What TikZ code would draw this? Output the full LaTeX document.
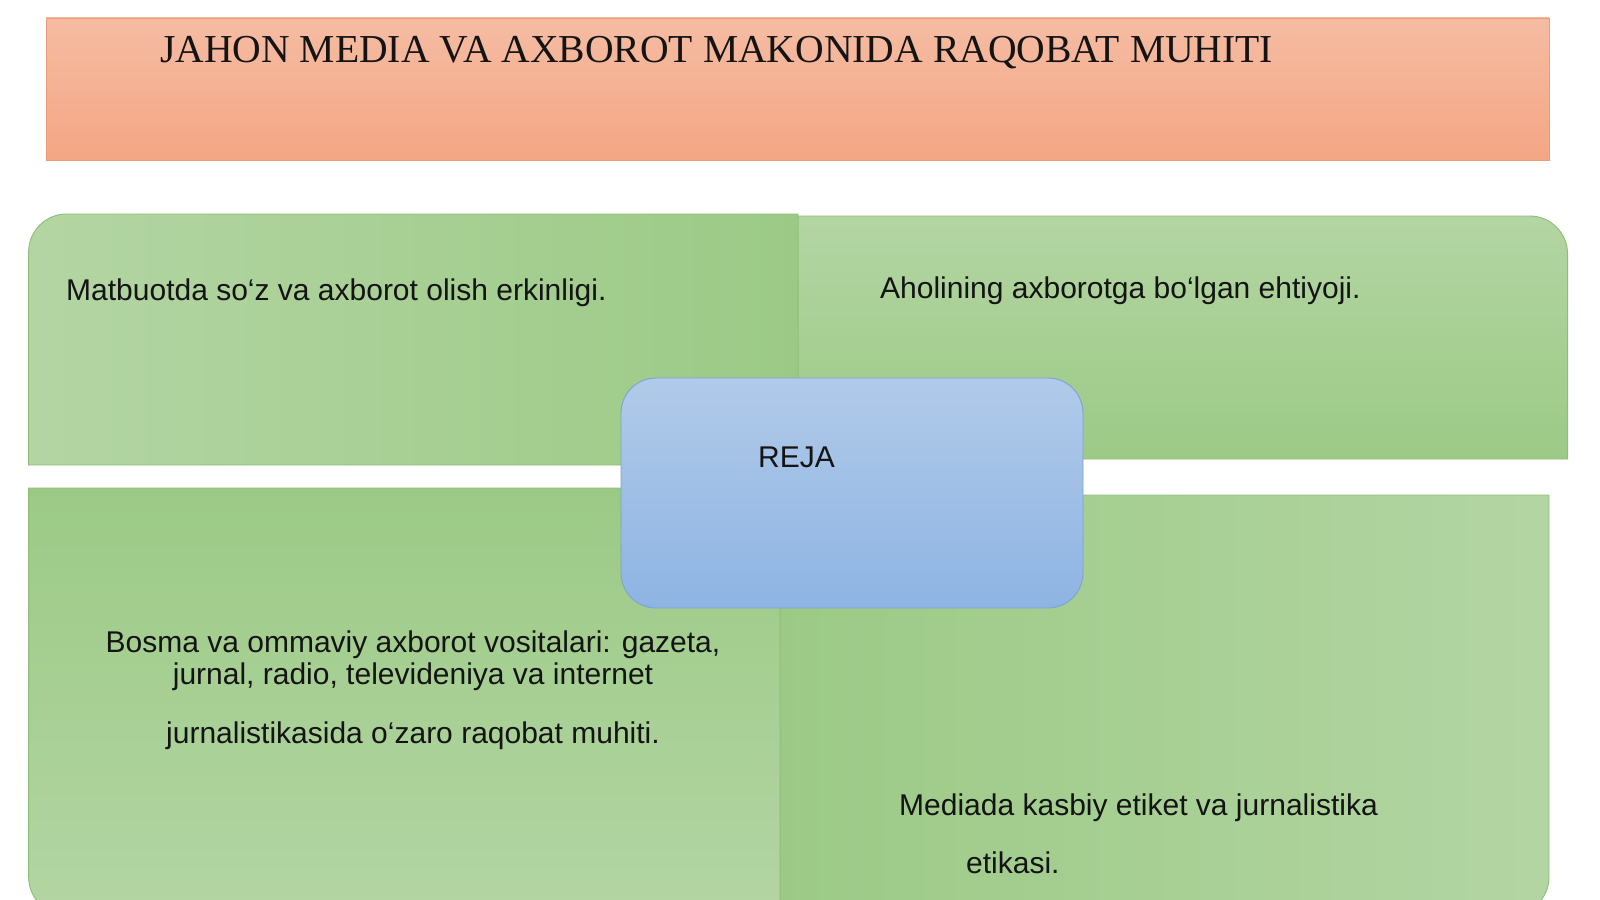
\documentclass[tikz,border=0pt]{standalone}
\usepackage{fontspec}
\usepackage{graphicx}
\setmainfont{Liberation Sans}
\newfontfamily\titlefont{Liberation Serif}
\definecolor{glight}{RGB}{179,213,163}
\definecolor{gdark}{RGB}{156,202,134}
\definecolor{gborder}{RGB}{140,190,118}
\definecolor{otop}{RGB}{245,188,163}
\definecolor{obottom}{RGB}{244,166,132}
\definecolor{oborder}{RGB}{236,156,120}
\definecolor{btop}{RGB}{177,202,233}
\definecolor{bbottom}{RGB}{142,180,227}
\definecolor{bborder}{RGB}{125,162,212}
\definecolor{ink}{RGB}{20,20,20}
\begin{document}
\begin{tikzpicture}[x=1pt,y=-1pt,
  gbox/.style={draw=gborder,line width=0.9pt},
  txt/.style={inner sep=0pt,anchor=base west,text=ink,font=\fontsize{30}{36}\selectfont},
  ctxt/.style={inner sep=0pt,anchor=base,text=ink,font=\fontsize{30}{36}\selectfont}]
\useasboundingbox (0,0) rectangle (1600,899);
\clip (0,0) rectangle (1600,899);
\fill[white] (0,0) rectangle (1600,899);
% title
\node[rectangle,draw=oborder,line width=0.9pt,top color=otop,bottom color=obottom,
  minimum width=1503pt,minimum height=142pt,inner sep=0pt] (titlebox) at (797.5,89) {};
\node[inner sep=0pt,anchor=base west,text=ink] (title) at (160,63)
  {\resizebox{1113pt}{!}{\titlefont\fontsize{40}{44}\selectfont JAHON MEDIA VA AXBOROT MAKONIDA RAQOBAT MUHITI}};
% top-right
\path[gbox,top color=glight,bottom color=gdark]
  (798,459) -- (798,216) -- (1529.6,216) .. controls (1550.6,216) and (1567.6,233) .. (1567.6,254) -- (1567.6,459) -- cycle;
% top-left
\path[gbox,left color=glight,right color=gdark]
  (28.6,465) -- (28.6,252) .. controls (28.6,231) and (45.6,214) .. (66.6,214) -- (798,214) -- (798,465) -- cycle;
% bottom-right
\path[gbox,left color=gdark,right color=glight]
  (780,495) -- (1549,495) -- (1549,877) .. controls (1549,898) and (1532,915) .. (1511,915) -- (780,915) -- cycle;
% bottom-left
\path[gbox,top color=gdark,bottom color=glight]
  (28.6,488) -- (780,488) -- (780,915) -- (66.6,915) .. controls (45.6,915) and (28.6,898) .. (28.6,877) -- cycle;
% centre
\node[draw=bborder,line width=0.9pt,top color=btop,bottom color=bbottom,rounded corners=35pt,
  minimum width=462pt,minimum height=230pt,inner sep=0pt] (rejabox) at (852,493) {};
\node[txt] (reja) at (758,467) {REJA};
% texts
\node[txt] (t1) at (66,300) {Matbuotda so‘z va axborot olish erkinligi.};
\node[txt] (t2) at (880,298) {Aholining axborotga bo‘lgan ehtiyoji.};
\node[ctxt] (t3a) at (413,652) {Bosma va ommaviy axborot vositalari: gazeta,};
\node[ctxt] (t3b) at (413,684) {jurnal, radio, televideniya va internet};
\node[ctxt] (t3c) at (413,743) {jurnalistikasida o‘zaro raqobat muhiti.};
\node[txt] (t4a) at (899,815) {Mediada kasbiy etiket va jurnalistika};
\node[txt] (t4b) at (966,873) {etikasi.};
\end{tikzpicture}
\end{document}
